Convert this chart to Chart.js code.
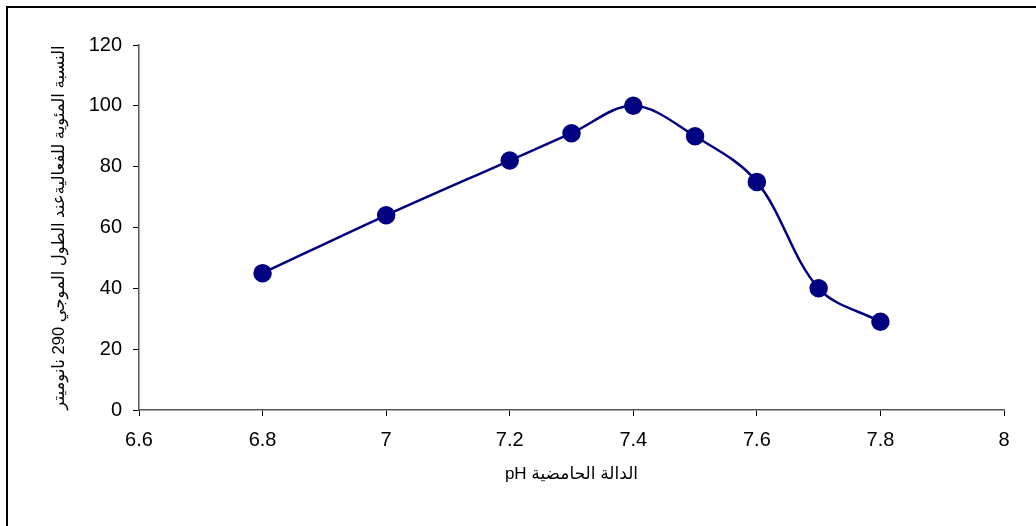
<!DOCTYPE html>
<html>
<head>
<meta charset="utf-8">
<script src="https://cdn.jsdelivr.net/npm/chart.js@4"></script>
<style>
    html, body { margin: 0; padding: 0; background: #fff; overflow: hidden; }
    #wrap { position: relative; width: 1036px; height: 526px; }
    #frame { position: absolute; left: 6px; top: 6px; width: 1100px; height: 600px; border: 2px solid #000; }
    canvas { position: absolute; left: 0; top: 0; }
</style>
</head>
<body>
<div id="wrap">
    <div id="frame"></div>
    <canvas id="chart_ph" width="1036" height="526"></canvas>
</div>
<script>
const phValues = [6.8, 7, 7.2, 7.3, 7.4, 7.5, 7.6, 7.7, 7.8];
const activity = [45, 64, 82, 91, 100, 90, 75, 40, 29];
const xTitle = 'الدالة الحامضية pH';
const yTitle = 'النسبة المئوية للفعاليةعند الطول الموجي 290 نانوميتر';

// canvas draws ltr by default, wrap the arabic titles in an rtl embedding
const rtl = s => '\u202B' + s + '\u202C';

const points = phValues.map((x, i) => ({x: x, y: activity[i]}));
const fontFamily = '"Liberation Sans", Arial, "DejaVu Sans", sans-serif';

const ctx = document.getElementById('chart_ph').getContext('2d');
const phChart = new Chart(ctx, {
    type: 'line',
    data: {
        datasets: [{
            data: points,
            borderColor: '#000080',
            backgroundColor: '#000080',
            borderWidth: 2.5,
            pointRadius: 8,
            pointHoverRadius: 8,
            tension: 0.35,
            fill: false
        }]
    },
    options: {
        responsive: false,
        animation: false,
        layout: {
            padding: {top: 45, right: 32, left: 0, bottom: 0}
        },
        plugins: {
            legend: {display: false},
            tooltip: {enabled: false}
        },
        scales: {
            x: {
                type: 'linear',
                min: 6.6,
                max: 8,
                afterFit: scale => { scale.height = 116; },
                grid: {
                    drawOnChartArea: false,
                    tickLength: 6,
                    color: '#000'
                },
                border: {color: '#555', width: 1.5},
                ticks: {
                    stepSize: 0.2,
                    padding: 12,
                    color: '#000',
                    font: {family: fontFamily, size: 20},
                    callback: v => Math.round(v * 10) / 10
                },
                title: {
                    display: true,
                    text: rtl(xTitle),
                    color: '#000',
                    font: {family: fontFamily, size: 17},
                    padding: {bottom: 41}
                }
            },
            y: {
                min: 0,
                max: 120,
                afterFit: scale => { scale.width = 139; },
                grid: {
                    drawOnChartArea: false,
                    tickLength: 6,
                    color: '#000'
                },
                border: {color: '#555', width: 1.5},
                ticks: {
                    stepSize: 20,
                    padding: 11,
                    color: '#000',
                    font: {family: fontFamily, size: 20}
                },
                title: {
                    display: true,
                    text: rtl(yTitle),
                    color: '#000',
                    font: {family: fontFamily, size: 16.5},
                    padding: {top: 50}
                }
            }
        }
    }
});
</script>
</body>
</html>
